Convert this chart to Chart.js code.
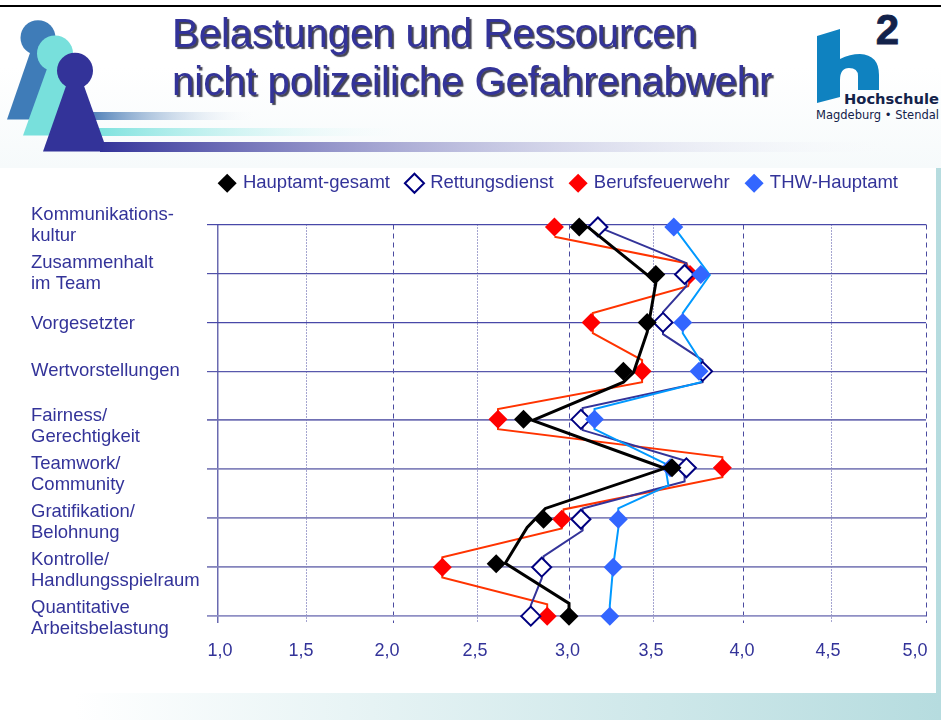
<!DOCTYPE html>
<html lang="de">
<head>
<meta charset="utf-8">
<title>Belastungen und Ressourcen</title>
<script src="https://cdn.jsdelivr.net/npm/chart.js@4/dist/chart.umd.min.js"></script>
<style>
html,body{margin:0;padding:0;width:941px;height:720px;overflow:hidden;background:#fff}
#bg,#art,#chart{position:absolute;left:0;top:0;width:941px;height:720px}
#bg{background:linear-gradient(90deg,#fff 8%,#b6dcdf 100%)}
#head{position:absolute;left:0;top:0;width:941px;height:168px;background:linear-gradient(180deg,#fff 40%,#f6fafb 100%)}
#panel{position:absolute;left:0;top:168px;width:936px;height:525px;background:#fff}
#rule{position:absolute;left:0;top:5px;width:941px;height:2px;background:#000}
</style>
</head>
<body>
<div id="bg"></div><div id="head"></div><div id="panel"></div><div id="rule"></div>
<svg id="art" viewBox="0 0 941 720" xmlns="http://www.w3.org/2000/svg">
<defs>
<linearGradient id="g1"><stop offset="0" stop-color="#4b7db6"/><stop offset="1" stop-color="#fff" stop-opacity="0"/></linearGradient>
<linearGradient id="g2"><stop offset="0" stop-color="#7de2de"/><stop offset="1" stop-color="#fff" stop-opacity="0"/></linearGradient>
<linearGradient id="g3"><stop offset="0" stop-color="#333399"/><stop offset="1" stop-color="#fff" stop-opacity="0"/></linearGradient>
</defs>
<rect x="90" y="112" width="170" height="8" fill="url(#g1)"/>
<rect x="98" y="128" width="325" height="8" fill="url(#g2)"/>
<rect x="100" y="142" width="810" height="10" fill="url(#g3)"/>
<circle cx="38" cy="37.7" r="17.5" fill="#3f7cb8"/><polygon points="31,50 48,50 72,119.5 7,119.5" fill="#3f7cb8"/>
<circle cx="55" cy="53.5" r="18" fill="#78e0dc"/><polygon points="48,66 66,66 90,135.5 23,135.5" fill="#78e0dc"/>
<circle cx="75" cy="70.7" r="18" fill="#333399"/><polygon points="66.7,84 83.3,84 104,142 102,151.5 43,151.5" fill="#333399"/>
<path d="M817 36 L840 29 L840 59 Q850 54 860 54 Q879 55 879 75 L879 90 L858 90 L858 76 Q858 68 849 68 Q840 68 840 80 L840 97 L817 103 Z" fill="#0f82c0"/>
<text x="887.5" y="43.5" font-family="Liberation Sans" font-weight="700" font-size="42" text-anchor="middle" fill="#13224a" stroke="#13224a" stroke-width="0.8">2</text>
<text x="844" y="104" font-family="DejaVu Sans" font-weight="700" font-size="14" textLength="95" lengthAdjust="spacingAndGlyphs" fill="#13224a">Hochschule</text>
<text x="816" y="119" font-family="DejaVu Sans" font-size="12.5" textLength="123" lengthAdjust="spacingAndGlyphs" fill="#13224a">Magdeburg • Stendal</text>
</svg>
<canvas id="chart" width="941" height="720"></canvas>
<script>
// ---- Data ----
const titleLines = ['Belastungen und Ressourcen', 'nicht polizeiliche Gefahrenabwehr'];
const categories = [
  ['Kommunikations-', 'kultur'], ['Zusammenhalt', 'im Team'], ['Vorgesetzter'], ['Wertvorstellungen'],
  ['Fairness/', 'Gerechtigkeit'], ['Teamwork/', 'Community'], ['Gratifikation/', 'Belohnung'],
  ['Kontrolle/', 'Handlungsspielraum'], ['Quantitative', 'Arbeitsbelastung']
];
const xTickLabels = ['1,0', '1,5', '2,0', '2,5', '3,0', '3,5', '4,0', '4,5', '5,0'];
const seriesNames = ['Hauptamt-gesamt', 'Rettungsdienst', 'Berufsfeuerwehr', 'THW-Hauptamt'];

const hauptamt = [3.06, 3.51, 3.46, 3.32, 2.75, 3.60, 2.86, 2.60, 3.00];
const rettung  = [3.17, 3.67, 3.55, 3.77, 3.07, 3.68, 3.07, 2.85, 2.79];
const feuerwehr = [2.92, 3.70, 3.13, 3.43, 2.61, 3.88, 2.96, 2.29, 2.88];
const thw      = [3.61, 3.76, 3.66, 3.75, 3.15, 3.59, 3.29, 3.26, 3.24];

// Rows the markers sit on (the original picture places them slightly off the grid lines)
const markerRows = [0.05, 1.02, 2, 3, 3.98, 4.97, 6.02, 7, 8];
const hauptamtRows = [0.05, 1.02, 2, 3, 3.98, 4.97, 6.02, 6.93, 8];

// The connecting lines of the original are separate polylines: value and row of each vertex
const hauptamtLineX = [3.11, 3.46, 3.51, 3.48, 3.46, 3.38, 3.32, 2.80, 3.56, 2.87, 2.77, 2.65, 3.00, 3.00];
const hauptamtLineY = [0.05, 1.03, 1.20, 1.81, 2.20, 3.02, 3.22, 4.00, 4.98, 5.80, 6.19, 6.92, 7.74, 8.00];
const rettungLineX = [3.17, 3.68, 3.68, 3.55, 3.55, 3.77, 3.77, 3.08, 3.08, 3.67, 3.67, 3.08, 3.08, 2.86, 2.85, 2.79, 2.79];
const rettungLineY = [0.05, 0.79, 1.26, 1.79, 2.24, 2.77, 3.22, 3.75, 4.20, 4.82, 5.25, 5.80, 6.25, 6.78, 7.23, 7.78, 8.00];
const feuerwehrLineX = [2.92, 3.68, 3.71, 3.69, 3.14, 3.14, 3.43, 3.43, 2.61, 2.61, 3.88, 3.88, 2.97, 2.96, 2.29, 2.29, 2.88, 2.88];
const feuerwehrLineY = [0.25, 0.79, 1.03, 1.26, 1.81, 2.22, 2.77, 3.22, 3.77, 4.18, 4.75, 5.16, 5.82, 6.21, 6.80, 7.21, 7.76, 8.00];
const thwLineX = [3.61, 3.81, 3.77, 3.66, 3.66, 3.80, 3.76, 3.15, 3.15, 3.56, 3.58, 3.29, 3.29, 3.26, 3.24, 3.24];
const thwLineY = [0.05, 1.03, 1.24, 1.81, 2.22, 3.02, 3.22, 3.77, 4.18, 4.88, 5.33, 5.80, 6.21, 6.98, 7.78, 8.00];

// ---- Axis placement of the original (hand-placed, slightly uneven) ----
const xTickFractions = [0, 0.1243, 0.2472, 0.3672, 0.4958, 0.6158, 0.7429, 0.8672, 1];
const labelNudge = {
  x: [2, -5, -6, -3, -1.5, -3, -2, -4, -11],
  y: [1, 0, 1, 0, 6, 5, 4, 3, 2]
};

class PlacedLinearScale extends Chart.LinearScale {
  getPixelForValue(value) {
    if (value === null || value === undefined) return NaN;
    if (this.id !== 'x') return super.getPixelForValue(value);
    const steps = xTickFractions.length - 1;
    const t = (value - this.min) / (this.max - this.min) * steps;
    const i = Math.max(0, Math.min(steps - 1, Math.floor(t)));
    const f = xTickFractions[i] + (xTickFractions[i + 1] - xTickFractions[i]) * (t - i);
    return this.getPixelForDecimal(f);
  }
  _computeLabelItems(area) {
    const items = super._computeLabelItems(area);
    const nudge = labelNudge[this.id];
    const last = items.length - 1;
    items.forEach((item, i) => {
      const tr = item.options.translation;
      // a reversed scale hands its ticks over last-first
      if (this.id === 'x') tr[0] += nudge[i] || 0; else tr[1] += nudge[last - i] || 0;
    });
    return items;
  }
}
PlacedLinearScale.id = 'placedLinear';
PlacedLinearScale.defaults = Chart.LinearScale.defaults;
Chart.register(PlacedLinearScale);

const ink = '#333399';
const rowLineColors = ['#4848a8', '#5050a8', '#4848a8', '#5858ac', '#7070b4', '#8484bc', '#8484bc', '#8484bc', '#8f8fc4'];
const toPoints = (xs, ys) => xs.map((x, i) => ({ x, y: ys[i] }));

function markerSet(label, xs, rows, fill, stroke, width, order) {
  return { type: 'scatter', label, data: toPoints(xs, rows), order, showLine: false, clip: false,
    pointStyle: 'rectRot', pointRadius: 9.5, pointBackgroundColor: fill, pointBorderColor: stroke,
    pointBorderWidth: width, backgroundColor: fill, borderColor: stroke, borderWidth: width };
}
function lineSet(label, xs, ys, color, width, order) {
  return { type: 'scatter', label, data: toPoints(xs, ys), order, showLine: true, tension: 0, clip: false,
    pointRadius: 0, borderColor: color, borderWidth: width, borderJoinStyle: 'miter', fill: false };
}

const decor = {
  id: 'decor',
  afterLayout(chart) {
    chart.legend.right -= 10;
    chart.legend.top -= 22;
    chart.titleBlock.left = 172;
    chart.titleBlock.top -= 20;
  },
  beforeDraw(chart) {
    const box = chart.titleBlock;
    if (box.__shadowed) return;
    box.__shadowed = true;
    const draw = box.draw;
    box.draw = function () {
      const c = this.ctx;
      c.save();
      c.shadowColor = 'rgba(20,20,40,0.8)';
      c.shadowOffsetX = 2; c.shadowOffsetY = 2; c.shadowBlur = 1;
      draw.call(this);
      c.restore();
    };
  }
};

new Chart(document.getElementById('chart'), {
  type: 'scatter',
  plugins: [decor],
  data: { datasets: [
    markerSet(seriesNames[0], hauptamt, hauptamtRows, '#000000', '#000000', 0, 2),
    markerSet(seriesNames[1], rettung, markerRows, '#ffffff', '#000080', 2, 4),
    markerSet(seriesNames[2], feuerwehr, markerRows, '#ff0000', '#ff0000', 0, 5),
    markerSet(seriesNames[3], thw, markerRows, '#3366ff', '#3366ff', 0, 3),
    lineSet(seriesNames[0] + ' (Linie)', hauptamtLineX, hauptamtLineY, '#000000', 3, 1),
    lineSet(seriesNames[1] + ' (Linie)', rettungLineX, rettungLineY, '#333399', 2, 7),
    lineSet(seriesNames[2] + ' (Linie)', feuerwehrLineX, feuerwehrLineY, '#ff3300', 2, 8),
    lineSet(seriesNames[3] + ' (Linie)', thwLineX, thwLineY, '#0099ff', 2, 6)
  ] },
  options: {
    responsive: false, animation: false, events: [],
    layout: { padding: { left: 31, right: 15, top: 0, bottom: 0 } },
    plugins: {
      tooltip: { enabled: false },
      title: { display: true, text: titleLines, color: ink, align: 'start',
        font: { family: 'Liberation Sans', size: 40, weight: 'normal', lineHeight: 1.2 },
        padding: { top: 11, bottom: 50 } },
      legend: { position: 'top', align: 'end',
        labels: { filter: (item) => item.datasetIndex < 4, sort: (a, b) => a.datasetIndex - b.datasetIndex,
          usePointStyle: true, boxWidth: 13, boxHeight: 13.5,
          padding: 18, color: ink, font: { family: 'Liberation Sans', size: 18.5 } } }
    },
    scales: {
      x: { type: 'placedLinear', position: 'bottom', min: 1, max: 5,
        afterFit(s) { s.height = 97; s.paddingLeft = 0; s.paddingRight = 0; },
        border: { display: false, dash: (ctx) => ctx.index === 0 ? [] : (ctx.index % 2 ? [1, 2] : [5, 4]) },
        grid: { drawTicks: false, tickLength: 0,
          color: (ctx) => ctx.index === 0 ? '#6a6ab0' : '#4a4aa0',
          lineWidth: (ctx) => ctx.index === 0 ? 1.5 : 1 },
        ticks: { stepSize: 0.5, includeBounds: false, maxRotation: 0, autoSkip: false, padding: 17,
          color: ink, font: { family: 'Liberation Sans', size: 18 },
          callback: (v) => xTickLabels[Math.round((v - 1) * 2)] } },
      y: { type: 'placedLinear', position: 'left', reverse: true, min: 0, max: 8.14,
        afterFit(s) { s.width = 187; s.paddingTop = 224.5; s.paddingBottom = 0; },
        border: { display: false },
        grid: { tickLength: 11, drawTicks: true,
          color: (ctx) => rowLineColors[ctx.tick ? ctx.tick.value : 0] || 'rgba(0,0,0,0)',
          tickColor: (ctx) => rowLineColors[ctx.tick ? ctx.tick.value : 0] || 'rgba(0,0,0,0)',
          lineWidth: (ctx) => ctx.tick && ctx.tick.value < 4 ? 1.2 : 1.8,
          tickWidth: (ctx) => ctx.tick && ctx.tick.value < 4 ? 1.2 : 1.8 },
        ticks: { stepSize: 1, includeBounds: false, crossAlign: 'far', autoSkip: false, padding: 0,
          color: ink, font: { family: 'Liberation Sans', size: 18.5, lineHeight: 1.12 },
          callback: (v) => categories[v] } }
    }
  }
});
</script>
</body>
</html>
